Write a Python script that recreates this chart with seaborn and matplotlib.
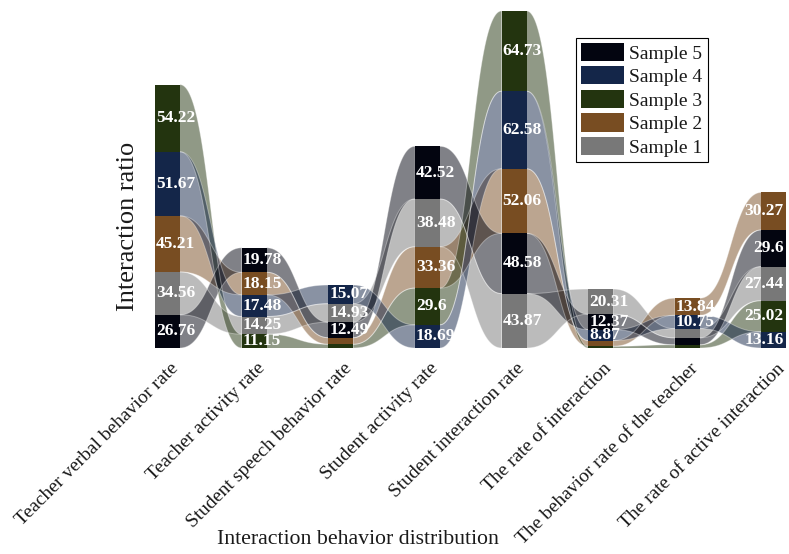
import numpy as np
import matplotlib
matplotlib.use("Agg")
import matplotlib.pyplot as plt
from matplotlib.patches import Patch
import seaborn as sns

# ---- data -------------------------------------------------------------
categories = [
    "Teacher verbal behavior rate",
    "Teacher activity rate",
    "Student speech behavior rate",
    "Student activity rate",
    "Student interaction rate",
    "The rate of interaction",
    "The behavior rate of the teacher",
    "The rate of active interaction",
]
series_names = ["Sample 1", "Sample 2", "Sample 3", "Sample 4", "Sample 5"]

sample1 = [34.56, 14.25, 14.93, 38.48, 43.87, 20.31, 7.4, 27.44]
sample2 = [45.21, 18.15, 5.3, 33.36, 52.06, 4.6, 13.84, 30.27]
sample3 = [54.22, 11.15, 3.0, 29.6, 64.73, 1.4, 2.6, 25.02]
sample4 = [51.67, 17.48, 15.07, 18.69, 62.58, 8.87, 10.75, 13.16]
sample5 = [26.76, 19.78, 12.49, 42.52, 48.58, 12.37, 5.6, 29.6]

colors = {
    "Sample 1": "#787878",
    "Sample 2": "#784d22",
    "Sample 3": "#23340f",
    "Sample 4": "#142649",
    "Sample 5": "#030510",
}
label_min = 8.5  # smaller segments carry no value label

values = np.array([sample1, sample2, sample3, sample4, sample5])

# ---- style ------------------------------------------------------------
sns.set_theme(style="white")
plt.rcParams["font.family"] = ["Liberation Serif", "DejaVu Serif"]

W, H = 789, 554
fig = plt.figure(figsize=(W / 100, H / 100), dpi=100)

first_px, step_px, bar_px = 167.5, 86.64, 25.0
base_px, px_per_unit = 348.0, 1.24
ax = fig.add_axes([0, (H - base_px) / H, 1, base_px / H])
ax.set_xlim(-first_px / step_px, (W - first_px) / step_px)
ax.set_ylim(0, base_px / px_per_unit)
ax.axis("off")

n_cat = len(categories)
xs = np.arange(n_cat)
hw = bar_px / step_px / 2

# stacking: within each category the smallest value sits at the bottom
bottoms = np.zeros_like(values)
for j in range(n_cat):
    order = np.argsort(values[:, j])
    acc = 0.0
    for k in order:
        bottoms[k, j] = acc
        acc += values[k, j]
tops = bottoms + values

# ---- ribbons between neighbouring bars --------------------------------
t = np.linspace(0, 1, 80)
ease = 3 * t**2 - 2 * t**3
for k, name in enumerate(series_names):
    for j in range(n_cat - 1):
        x0, x1 = xs[j] + hw, xs[j + 1] - hw
        d = x1 - x0
        bx = ((1 - t) ** 3 * x0 + 3 * (1 - t) ** 2 * t * (x0 + d / 2)
              + 3 * (1 - t) * t**2 * (x1 - d / 2) + t**3 * x1)
        ylo = bottoms[k, j] + (bottoms[k, j + 1] - bottoms[k, j]) * ease
        yhi = tops[k, j] + (tops[k, j + 1] - tops[k, j]) * ease
        ax.fill_between(bx, ylo, yhi, facecolor=colors[name], alpha=0.5,
                        edgecolor="none", zorder=1 + k * 0.1)
        ax.plot(bx, yhi, color="white", lw=0.7, alpha=0.35, zorder=1.6)
        ax.plot(bx, ylo, color="white", lw=0.7, alpha=0.35, zorder=1.6)

# ---- stacked bars -----------------------------------------------------
for k, name in enumerate(series_names):
    ax.bar(xs, values[k], bottom=bottoms[k], width=2 * hw,
           color=colors[name], edgecolor="none", zorder=3)

# ---- value labels -----------------------------------------------------
px = 1.0 / step_px
for k in range(len(series_names)):
    for j in range(n_cat):
        v = values[k, j]
        if v < label_min:
            continue
        ymid = bottoms[k, j] + v / 2
        if j == n_cat - 1:
            ax.text(xs[j] + hw - 3 * px, ymid, f"{v:g}", ha="right",
                    va="center", color="white", fontsize=12.5,
                    fontweight="bold", zorder=5)
        else:
            ax.text(xs[j] - hw + 1 * px, ymid, f"{v:g}", ha="left",
                    va="center", color="white", fontsize=12.5,
                    fontweight="bold", zorder=5)

# ---- category labels --------------------------------------------------
for j, cat in enumerate(categories):
    xa = (first_px + step_px * j + 2) / W
    ya = 1 - 360 / H
    fig.text(xa, ya, cat, rotation=45, ha="right", va="top",
             rotation_mode="anchor", fontsize=14, color="#1a1a1a")

fig.text(358 / W, 1 - 540 / H, "Interaction behavior distribution",
         ha="center", va="center", fontsize=15.7, color="#1a1a1a")
fig.text(128 / W, 1 - 226 / H, "Interaction ratio", rotation=90,
         ha="center", va="center", fontsize=19, color="#1a1a1a")

# ---- legend -----------------------------------------------------------
handles = [Patch(facecolor=colors[n], edgecolor="none", label=n)
           for n in series_names[::-1]]
leg = fig.legend(handles=handles, loc="upper left",
                 bbox_to_anchor=(576 / W, 1 - 38 / H),
                 bbox_transform=fig.transFigure, fontsize=14,
                 handlelength=2.2, handleheight=1.05, labelspacing=0.2,
                 handletextpad=0.3, borderpad=0.25, borderaxespad=0,
                 fancybox=False, framealpha=1)
leg.get_frame().set_edgecolor("black")
leg.get_frame().set_linewidth(0.8)
for txt in leg.get_texts():
    txt.set_color("#1a1a1a")

fig.savefig("out.png", dpi=100)
